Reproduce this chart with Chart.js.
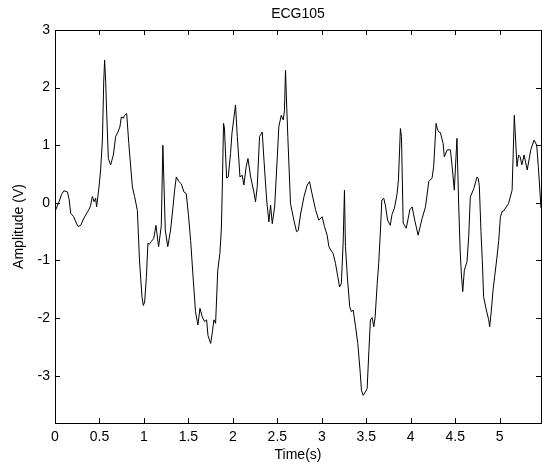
<!DOCTYPE html>
<html>
<head>
<meta charset="utf-8">
<title>ECG105</title>
<script src="https://cdn.jsdelivr.net/npm/chart.js@4.4.0/dist/chart.umd.min.js"></script>
<style>
  body { margin: 0; background: #fff; }
  #wrap { width: 547px; height: 469px; }
</style>
</head>
<body>
<div id="wrap"><canvas id="ecgChart" width="547" height="469"></canvas></div>
<script>
// ECG105 trace, values (one row of times per row of amplitudes)
const timeS = [
  0.000, 0.045, 0.075, 0.100, 0.140, 0.160, 0.176, 0.210, 0.240, 0.260,
  0.290, 0.320, 0.345, 0.380, 0.400, 0.420, 0.440, 0.457, 0.468, 0.495,
  0.513, 0.533, 0.548, 0.558, 0.570, 0.580, 0.600, 0.626, 0.656, 0.682,
  0.708, 0.730, 0.746, 0.768, 0.783, 0.806, 0.830, 0.870, 0.895, 0.926,
  0.950, 0.978, 0.993, 1.008, 1.027, 1.045, 1.060, 1.083, 1.110, 1.135,
  1.165, 1.195, 1.213, 1.240, 1.268, 1.300, 1.327, 1.345, 1.364, 1.393,
  1.420, 1.450, 1.476, 1.500, 1.525, 1.555, 1.580, 1.607, 1.630, 1.656,
  1.682, 1.705, 1.720, 1.750, 1.770, 1.787, 1.806, 1.830, 1.854, 1.870,
  1.880, 1.895, 1.905, 1.930, 1.948, 1.974, 1.990, 2.030, 2.050, 2.080,
  2.105, 2.124, 2.150, 2.170, 2.200, 2.236, 2.255, 2.274, 2.300, 2.330,
  2.350, 2.380, 2.405, 2.424, 2.443, 2.470, 2.500, 2.517, 2.544, 2.566,
  2.580, 2.592, 2.605, 2.618, 2.648, 2.686, 2.716, 2.735, 2.760, 2.800,
  2.836, 2.862, 2.890, 2.930, 2.966, 3.004, 3.030, 3.060, 3.080, 3.110,
  3.128, 3.154, 3.180, 3.200, 3.220, 3.240, 3.255, 3.266, 3.290, 3.314,
  3.333, 3.353, 3.380, 3.405, 3.430, 3.446, 3.465, 3.490, 3.510, 3.530,
  3.547, 3.566, 3.585, 3.600, 3.623, 3.640, 3.660, 3.675, 3.697, 3.716,
  3.740, 3.770, 3.790, 3.817, 3.847, 3.862, 3.884, 3.896, 3.915, 3.950,
  3.990, 4.016, 4.045, 4.083, 4.128, 4.166, 4.203, 4.240, 4.258, 4.285,
  4.300, 4.315, 4.334, 4.364, 4.378, 4.410, 4.446, 4.466, 4.490, 4.520,
  4.540, 4.556, 4.570, 4.585, 4.603, 4.633, 4.652, 4.670, 4.710, 4.746,
  4.760, 4.772, 4.790, 4.805, 4.820, 4.850, 4.877, 4.888, 4.907, 4.926,
  4.944, 4.970, 4.990, 5.008, 5.027, 5.045, 5.075, 5.100, 5.140, 5.165,
  5.195, 5.213, 5.230, 5.250, 5.275, 5.310, 5.350, 5.387, 5.417, 5.435, 5.465
];
const amplitudeV = [
  -0.15, 0.02, 0.15, 0.21, 0.19, 0.05, -0.18, -0.24, -0.35, -0.41,
  -0.39, -0.28, -0.21, -0.12, -0.05, 0.11, 0.02, 0.08, -0.07, 0.28,
  0.57, 1.09, 2.10, 2.48, 2.10, 1.61, 0.77, 0.66, 0.83, 1.15,
  1.23, 1.32, 1.49, 1.47, 1.52, 1.55, 1.03, 0.28, 0.11, -0.13,
  -0.99, -1.63, -1.78, -1.72, -1.30, -0.70, -0.72, -0.67, -0.62, -0.39,
  -0.76, -0.40, 1.00, -0.47, -0.76, -0.47, -0.07, 0.22, 0.45, 0.37,
  0.33, 0.19, 0.16, -0.20, -0.65, -1.34, -1.89, -2.12, -1.83, -1.98,
  -2.06, -2.03, -2.30, -2.44, -2.24, -2.03, -2.09, -1.17, -0.88, -0.47,
  0.16, 1.38, 1.30, 0.43, 0.45, 0.86, 1.21, 1.70, 1.15, 0.45,
  0.48, 0.31, 0.63, 0.77, 0.45, 0.19, 0.02, 0.28, 1.15, 1.23,
  0.74, 0.05, -0.33, -0.04, -0.36, -0.07, 0.80, 1.32, 1.52, 1.44,
  1.60, 2.30, 1.70, 1.15, -0.01, -0.30, -0.50, -0.48, -0.21, 0.11,
  0.31, 0.37, 0.16, -0.12, -0.30, -0.24, -0.41, -0.56, -0.76, -0.84,
  -0.88, -1.05, -1.28, -1.46, -1.40, -0.70, 0.22, -0.76, -1.34, -1.80,
  -1.89, -1.86, -2.15, -2.44, -2.90, -3.25, -3.34, -3.28, -3.22, -2.56,
  -2.03, -1.99, -2.15, -1.98, -1.40, -1.05, -0.47, 0.05, 0.08, -0.05,
  -0.30, -0.39, -0.20, -0.09, 0.16, 0.40, 1.29, 1.15, -0.35, -0.44,
  -0.12, -0.07, -0.30, -0.56, -0.27, -0.07, 0.37, 0.43, 0.63, 1.38,
  1.28, 1.23, 1.22, 1.03, 0.80, 0.92, 0.92, 0.63, 0.22, 1.12,
  -0.07, -0.82, -1.25, -1.54, -1.17, -1.02, -0.59, 0.10, 0.25, 0.45,
  0.42, 0.28, -0.50, -1.00, -1.63, -1.86, -2.03, -2.15, -1.86, -1.51,
  -1.28, -0.94, -0.65, -0.25, -0.15, -0.14, -0.07, -0.01, 0.22, 1.52,
  0.63, 0.83, 0.80, 0.66, 0.83, 0.57, 0.92, 1.09, 1.00, 0.63, -0.09
];

// axis limits / tick spacing
const xRange = [0, 5.465];
const yRange = [-3.82, 3];
const xStep = 0.5;
const yStep = 1;

const fontFamily = 'Arial, "Liberation Sans", Helvetica, sans-serif';

const points = timeS.map((t, i) => ({ x: t, y: amplitudeV[i] }));

// plain labels: 1 not 1.0
function plainLabel(v) {
  return String(Number(v.toFixed(2)));
}

// matlab-like box with inward ticks on all four sides
const boxTicks = {
  id: 'boxTicks',
  afterDraw(chart) {
    const ctx = chart.ctx;
    const a = chart.chartArea;
    const xs = chart.scales.x;
    const ys = chart.scales.y;
    const len = 5;
    ctx.save();
    ctx.strokeStyle = '#000';
    ctx.lineWidth = 1;
    ctx.beginPath();
    xs.ticks.forEach(tk => {
      const px = Math.round(xs.getPixelForValue(tk.value)) + 0.5;
      ctx.moveTo(px, a.bottom); ctx.lineTo(px, a.bottom - len);
      ctx.moveTo(px, a.top); ctx.lineTo(px, a.top + len);
    });
    ys.ticks.forEach(tk => {
      const py = Math.round(ys.getPixelForValue(tk.value)) + 0.5;
      ctx.moveTo(a.left, py); ctx.lineTo(a.left + len, py);
      ctx.moveTo(a.right, py); ctx.lineTo(a.right - len, py);
    });
    ctx.stroke();
    ctx.strokeRect(Math.round(a.left) + 0.5, Math.round(a.top) + 0.5,
      Math.round(a.right - a.left), Math.round(a.bottom - a.top));
    ctx.restore();
  }
};

const ctx = document.getElementById('ecgChart').getContext('2d');
const chart = new Chart(ctx, {
  type: 'line',
  data: {
    datasets: [{
      label: 'ECG105',
      data: points,
      borderColor: '#000',
      borderWidth: 1,
      pointRadius: 0,
      tension: 0,
      fill: false
    }]
  },
  options: {
    responsive: false,
    animation: false,
    devicePixelRatio: 1,
    parsing: false,
    layout: { padding: { left: 0, right: 6, top: 0, bottom: 0 } },
    plugins: {
      legend: { display: false },
      tooltip: { enabled: false },
      title: {
        display: true,
        text: 'ECG105',
        fullSize: false,
        color: '#000',
        font: { family: fontFamily, size: 14, weight: 'normal' },
        padding: { top: 6, bottom: 7.2 }
      }
    },
    scales: {
      x: {
        type: 'linear',
        min: xRange[0],
        max: xRange[1],
        grid: { display: false, drawTicks: false },
        border: { display: false },
        ticks: {
          stepSize: xStep,
          includeBounds: false,
          autoSkip: false,
          maxRotation: 0,
          padding: 6,
          color: '#000',
          font: { family: fontFamily, size: 14 },
          callback: plainLabel
        },
        title: {
          display: true,
          text: 'Time(s)',
          color: '#000',
          font: { family: fontFamily, size: 14 },
          padding: { top: 0, bottom: 5.6 }
        },
        afterFit(scale) { scale.height = 46; }
      },
      y: {
        type: 'linear',
        min: yRange[0],
        max: yRange[1],
        grid: { display: false, drawTicks: false },
        border: { display: false },
        ticks: {
          stepSize: yStep,
          includeBounds: false,
          padding: 5,
          color: '#000',
          font: { family: fontFamily, size: 14 },
          callback: plainLabel
        },
        title: {
          display: true,
          text: 'Amplitude (V)',
          color: '#000',
          font: { family: fontFamily, size: 14 },
          padding: { top: 11, bottom: 0 }
        },
        afterFit(scale) { scale.width = 55; }
      }
    }
  },
  plugins: [boxTicks]
});
</script>
</body>
</html>
